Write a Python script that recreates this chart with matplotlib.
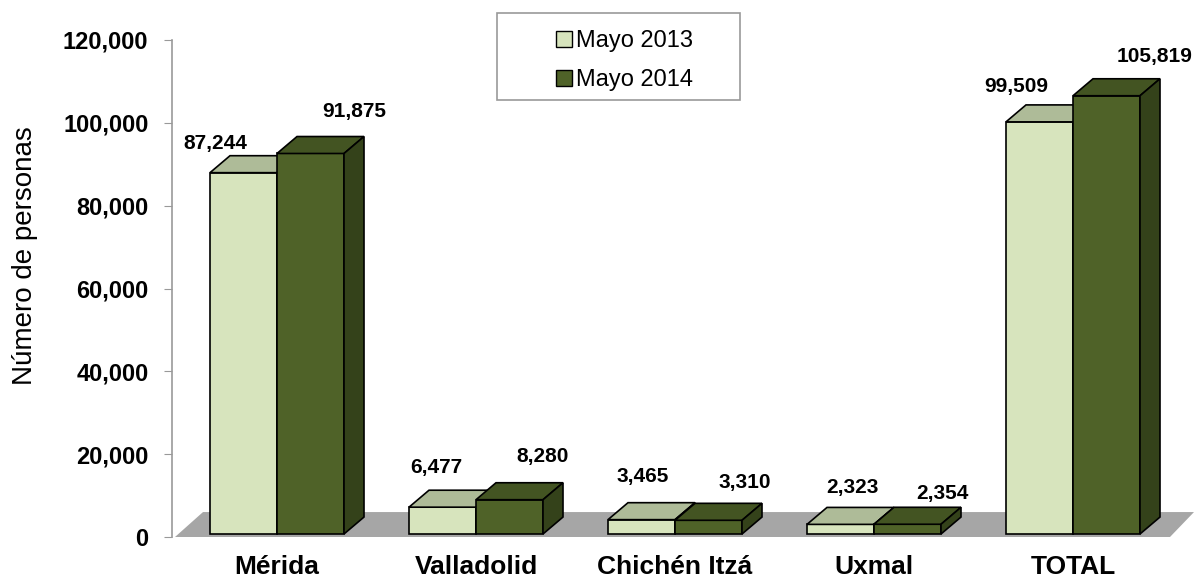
import matplotlib
matplotlib.use("Agg")
import matplotlib.pyplot as plt
from matplotlib.patches import Polygon, Patch, Rectangle
from matplotlib.ticker import FuncFormatter

plt.rcParams["font.family"] = ["Liberation Sans", "DejaVu Sans"]

categories = ["Mérida", "Valladolid", "Chichén Itzá", "Uxmal", "TOTAL"]
mayo_2013 = [87244, 6477, 3465, 2323, 99509]
mayo_2014 = [91875, 8280, 3310, 2354, 105819]
series_names = ["Mayo 2013", "Mayo 2014"]

# label offsets in pixels (dx, dy) from top-centre of each front face
off_2013 = [(-28, 32), (-6, 43), (1, 46), (12, 40), (-23, 38)]
off_2014 = [(44, 45), (33, 46), (36, 41), (35, 34), (48, 42)]

light = {"front": "#d7e4bd", "top": "#aebb98", "side": "#9aa884"}
dark = {"front": "#4f6228", "top": "#435422", "side": "#34421a"}

W, H = 1194, 582
fig = plt.figure(figsize=(W / 100, H / 100), dpi=100)
ax = fig.add_axes([172 / W, (H - 537) / H, (W - 172) / W, (537 - 40) / H])

XPX = 199.0          # pixels per category
YPX = 83.0 / 20000   # pixels per unit
ax.set_xlim(-105 / XPX, (W - 172 - 105) / XPX)
ax.set_ylim(0, 120000)


def px_x(p):
    return p / XPX


def px_y(p):
    return p / YPX


# gray floor
floor = Polygon([(px_x(-102), 0), (px_x(893), 0),
                 (px_x(917), px_y(25)), (px_x(-74), px_y(25))],
                closed=True, facecolor="#a6a6a6", edgecolor="none", zorder=1)
ax.add_patch(floor)

bw = px_x(67)
ddx, ddy = px_x(20), px_y(17)
base = px_y(3)


def box(x0, h, c):
    x1 = x0 + bw
    top = base + h
    ax.bar(x0, h, bottom=base, width=bw, align="edge", color=c["front"],
           edgecolor="black", linewidth=1.2, zorder=3)
    ax.add_patch(Polygon([(x0, top), (x1, top), (x1 + ddx, top + ddy), (x0 + ddx, top + ddy)],
                         closed=True, facecolor=c["top"], edgecolor="black",
                         linewidth=1.2, zorder=3))
    ax.add_patch(Polygon([(x1, base), (x1 + ddx, base + ddy), (x1 + ddx, top + ddy), (x1, top)],
                         closed=True, facecolor=c["side"], edgecolor="black",
                         linewidth=1.2, zorder=3))


for i, (a, b) in enumerate(zip(mayo_2013, mayo_2014)):
    box(i - bw, a, light)
    box(i, b, dark)
    ax.annotate(f"{a:,}", (i - bw / 2, a), xytext=off_2013[i],
                textcoords="offset pixels", ha="center", va="center",
                fontsize=15, fontweight="bold", zorder=5)
    ax.annotate(f"{b:,}", (i + bw / 2, b), xytext=off_2014[i],
                textcoords="offset pixels", ha="center", va="center",
                fontsize=15, fontweight="bold", zorder=5)

ax.set_xticks(range(len(categories)))
ax.set_xticklabels(categories, fontsize=19, fontweight="bold")
ax.tick_params(axis="x", length=0, pad=13)

ax.set_yticks(range(0, 120001, 20000))
ax.yaxis.set_major_formatter(FuncFormatter(lambda v, _: f"{int(v):,}"))
ax.tick_params(axis="y", labelsize=17, direction="out", length=6,
               color="#999999", pad=11)
for t in ax.get_yticklabels():
    t.set_fontweight("bold")
ax.set_ylabel("Número de personas", fontsize=20)
ax.yaxis.set_label_coords(-134 / 1022, (537 - 256) / 497)

for s in ["top", "right", "bottom"]:
    ax.spines[s].set_visible(False)
ax.spines["left"].set_color("#999999")
ax.spines["left"].set_linewidth(1.2)

# legend frame drawn separately so the box can be wider than its entries
fig.patches.append(Rectangle((497 / W, 1 - 100 / H), (740 - 497) / W, 87 / H,
                             transform=fig.transFigure, facecolor="white",
                             edgecolor="#999999", linewidth=1.2, zorder=4))
handles = [Patch(facecolor=light["front"], edgecolor="black"),
           Patch(facecolor=dark["front"], edgecolor="black")]
leg = fig.legend(handles, series_names, loc="upper left",
                 bbox_to_anchor=(556 / W, 1 - 30 / H), fontsize=17,
                 frameon=False, handlelength=0.68, handleheight=0.68,
                 handletextpad=0.15, labelspacing=0.72, borderpad=0,
                 borderaxespad=0)
leg.set_zorder(5)

fig.savefig("out.png", dpi=100)
